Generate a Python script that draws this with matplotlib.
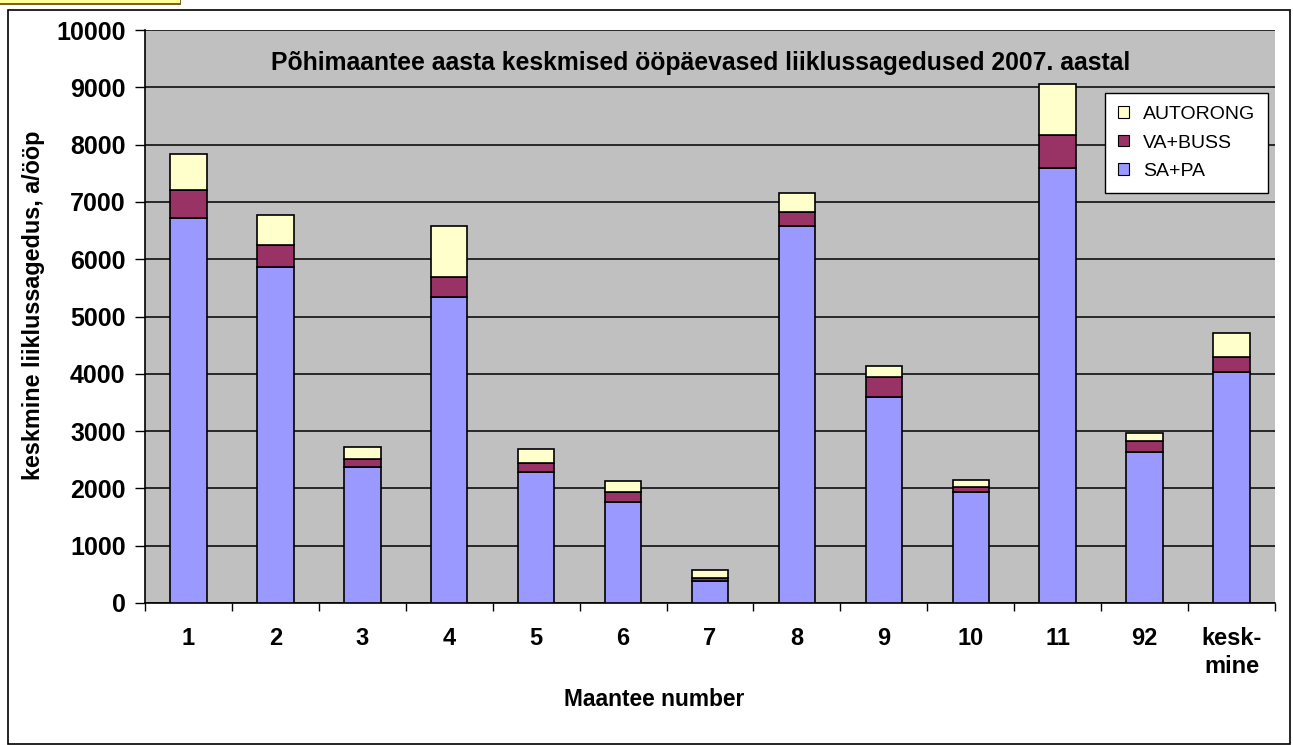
import matplotlib
matplotlib.use("Agg")
import matplotlib.pyplot as plt
import numpy as np
from matplotlib.patches import Rectangle, Patch

plt.rcParams['font.family'] = ['Liberation Sans', 'DejaVu Sans']

categories = ["1", "2", "3", "4", "5", "6", "7", "8", "9", "10", "11", "92", "kesk-\nmine"]
sa_pa = [6714, 5869, 2368, 5335, 2281, 1763, 380, 6579, 3590, 1937, 7586, 2635, 4026]
va_buss = [494, 374, 140, 349, 168, 174, 50, 250, 354, 93, 576, 187, 262]
autorong = [628, 534, 209, 901, 244, 192, 150, 326, 197, 117, 896, 139, 419]
series_names = ["SA+PA", "VA+BUSS", "AUTORONG"]
colors = ["#9999FF", "#993366", "#FFFFCC"]

W, H = 1293, 745
fig = plt.figure(figsize=(W / 100, H / 100), dpi=100)
fig.patch.set_facecolor("white")

# figure border & highlight
fig.add_artist(Rectangle((8 / W, 1 / H), (1290 - 8) / W, (744 - 10) / H,
                         transform=fig.transFigure, fill=False, edgecolor="black", linewidth=1.2))
fig.add_artist(Rectangle((0, 1 - 3.5 / H), 180 / W, 3.5 / H, transform=fig.transFigure,
                         facecolor="#FFFF99", edgecolor="none"))
fig.add_artist(Rectangle((0, 1 - 4.5 / H), 181 / W, 1.2 / H, transform=fig.transFigure,
                         facecolor="#806020", edgecolor="none"))
fig.add_artist(Rectangle((179.5 / W, 1 - 4.5 / H), 1.5 / W, 4.5 / H, transform=fig.transFigure,
                         facecolor="#806020", edgecolor="none"))

left, right, top, bottom = 145, 1275, 30, 603
ax = fig.add_axes([left / W, (H - bottom) / H, (right - left) / W, (bottom - top) / H])
ax.set_facecolor("#C0C0C0")

x = np.arange(len(categories))
bw = 0.42
s1 = np.array(sa_pa)
s2 = np.array(va_buss)
s3 = np.array(autorong)
ax.bar(x, s1, bw, color=colors[0], edgecolor="black", linewidth=1.2, zorder=3)
ax.bar(x, s2, bw, bottom=s1, color=colors[1], edgecolor="black", linewidth=1.2, zorder=3)
ax.bar(x, s3, bw, bottom=s1 + s2, color=colors[2], edgecolor="black", linewidth=1.2, zorder=3)

ax.set_xlim(-0.5, len(categories) - 0.5)
ax.set_ylim(0, 10000)
ax.set_yticks(np.arange(0, 10001, 1000))
ax.yaxis.grid(True, color="black", linewidth=1.1, zorder=1)
ax.set_axisbelow(True)
ax.tick_params(axis="y", labelsize=18, length=7, width=1, pad=7, direction="out")
for lbl in ax.get_yticklabels():
    lbl.set_fontweight("bold")

ax.set_xticks(x)
ax.set_xticklabels(categories, fontsize=17, fontweight="bold", linespacing=1.3)
ax.tick_params(axis="x", length=0, pad=17)
ax.set_xticks(np.arange(-0.5, len(categories), 1), minor=True)
ax.tick_params(axis="x", which="minor", length=6, width=1, direction="out")

for side in ["right", "top"]:
    ax.spines[side].set_visible(False)
ax.spines["left"].set_linewidth(1.2)
ax.spines["bottom"].set_linewidth(1.2)

ax.text(0.492, 0.942, "Põhimaantee aasta keskmised ööpäevased liiklussagedused 2007. aastal",
        transform=ax.transAxes, ha="center", va="center", fontsize=17.8, fontweight="bold")

ax.set_ylabel("keskmine liiklussagedus, a/ööp", fontsize=16.8, fontweight="bold")
ax.yaxis.set_label_coords(-0.0885, 0.52)
fig.text(654 / W, 1 - 700 / H, "Maantee number", ha="center", va="center",
         fontsize=16.4, fontweight="bold")

handles = [Patch(facecolor=colors[i], edgecolor="black", linewidth=0.8) for i in (2, 1, 0)]
labels = [series_names[i] for i in (2, 1, 0)]
leg = fig.legend(handles, labels, loc="upper left", bbox_to_anchor=(1105 / W, 1 - 93 / H),
                 fontsize=14, frameon=True, fancybox=False, edgecolor="black", framealpha=1,
                 handlelength=0.55, handleheight=0.55, handletextpad=0.75,
                 labelspacing=0.6, borderpad=0.66, borderaxespad=0)
leg.get_frame().set_linewidth(1.0)

fig.savefig("out.png", dpi=100)
